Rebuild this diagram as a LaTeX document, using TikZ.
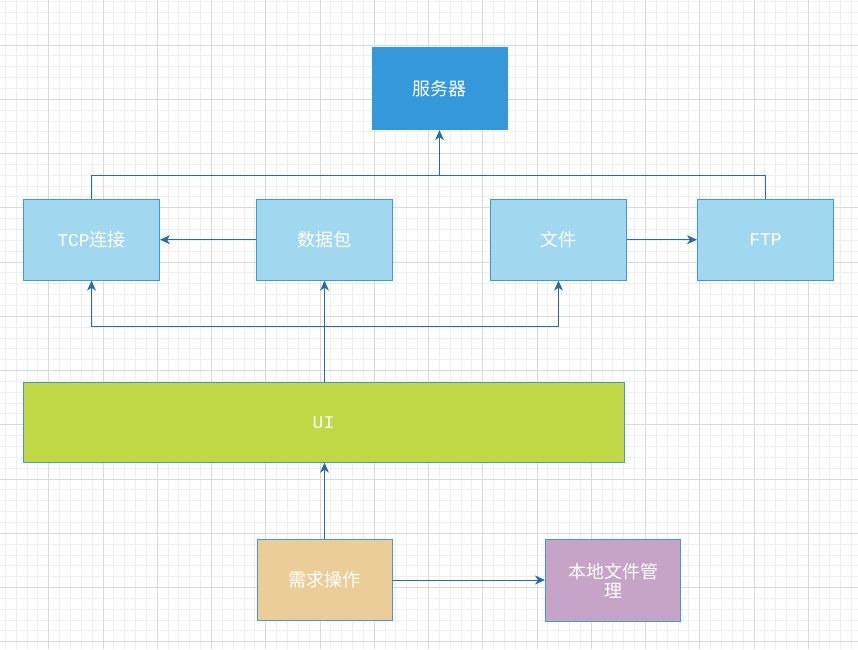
\documentclass[tikz,border=0pt]{standalone}
\usepackage{fontspec}
\setmainfont{Liberation Mono}
\newfontfamily\cjk{Noto Sans CJK SC}
\usetikzlibrary{arrows.meta}
\definecolor{minorg}{RGB}{238,238,238}
\definecolor{majorg}{RGB}{218,218,218}
\definecolor{lineblue}{RGB}{38,108,165}
\definecolor{bordblue}{RGB}{61,155,218}
\definecolor{srvfill}{RGB}{52,152,219}
\definecolor{ltfill}{RGB}{161,215,239}
\definecolor{uifill}{RGB}{192,216,70}
\definecolor{reqfill}{RGB}{235,205,153}
\definecolor{locfill}{RGB}{198,164,199}
\tikzset{
  boxbase/.style={rectangle, draw=bordblue, line width=1pt, text=white, inner sep=2pt,
    font=\fontsize{18}{22}\selectfont, align=center},
  srvbox/.style={boxbase, fill=srvfill, draw=srvfill, minimum width=135pt, minimum height=82pt},
  ltbox/.style={boxbase, fill=ltfill, minimum width=136pt, minimum height=81pt},
  uibox/.style={boxbase, fill=uifill, minimum width=601pt, minimum height=80pt},
  reqbox/.style={boxbase, fill=reqfill, minimum width=135pt, minimum height=81pt},
  locbox/.style={boxbase, fill=locfill, minimum width=135pt, minimum height=82pt},
  conn/.style={draw=lineblue, line width=1pt},
  arr/.style={conn, -{Stealth[length=10pt,width=9pt,inset=3pt]}},
  minorline/.style={draw=minorg, line width=0.9pt},
  majorline/.style={draw=majorg, line width=0.9pt}
}
\begin{document}
\begin{tikzpicture}[x=1pt,y=-1pt]
\useasboundingbox (0,0) rectangle (858,649);
\fill[white] (0,0) rectangle (858,649);
\begin{scope}
\clip (0,0) rectangle (858,649);
\foreach \i in {0,...,80} { \draw[minorline] ({-5.55+\i*10.85},0) -- ({-5.55+\i*10.85},649); }
\foreach \i in {0,...,61} { \draw[minorline] (0,{-9.25+\i*10.85}) -- (858,{-9.25+\i*10.85}); }
\foreach \i in {0,...,16} { \draw[majorline] ({-5.55+\i*54.25},0) -- ({-5.55+\i*54.25},649); }
\foreach \i in {0,...,12} { \draw[majorline] (0,{-9.25+\i*54.25}) -- (858,{-9.25+\i*54.25}); }
\end{scope}

\node[srvbox] (srv) at (439.5,88.7) {\cjk 服务器};
\node[ltbox] (tcp) at (91.5,239.7) {TCP{\cjk 连接}};
\node[ltbox] (pkt) at (324.5,239.7) {\cjk 数据包};
\node[ltbox] (file) at (558.5,239.7) {\cjk 文件};
\node[ltbox] (ftp) at (765.5,239.7) {FTP};
\node[uibox] (ui) at (323.5,422.2) {UI};
\node[reqbox] (req) at (324.5,580) {\cjk 需求操作};
\node[locbox] (loc) at (613,580.3) {\cjk 本地文件管\\[-3pt]\cjk 理};

\coordinate (bt) at (439.5,175.5);
\coordinate (bb) at (324.5,326.5);

\draw[conn] (tcp.north) |- (bt) -| (ftp.north);
\draw[arr] (bt) -- (srv.south);
\draw[arr] (pkt.west) -- (tcp.east);
\draw[arr] (file.east) -- (ftp.west);
\draw[arr] (bb) -| (tcp.south);
\draw[arr] (bb) -| (file.south);
\draw[arr] (pkt.south |- ui.north) -- (pkt.south);
\draw[arr] (req.north) -- (req.north |- ui.south);
\draw[arr] (req.east) -- (req.east -| loc.west);
\end{tikzpicture}
\end{document}
